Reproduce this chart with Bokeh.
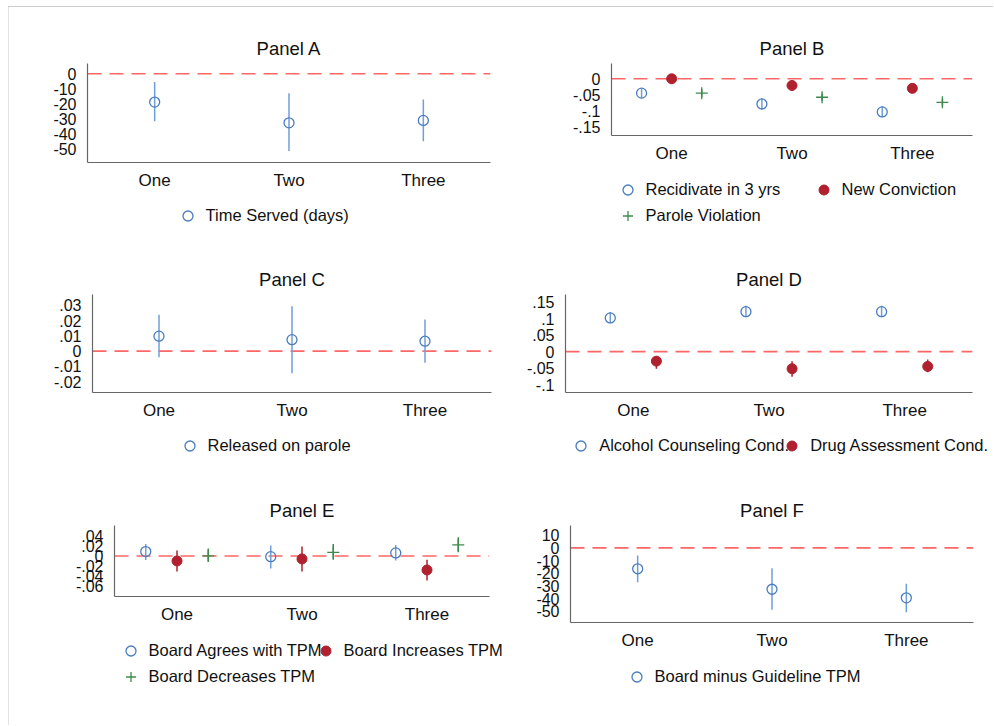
from bokeh.plotting import figure
from bokeh.models import (FactorRange, Range1d, FixedTicker, CustomJSTickFormatter, Span,
                          Legend, LegendItem, ColumnDataSource, Spacer)
from bokeh.layouts import row, column
from bokeh.transform import dodge
from bokeh.embed import file_html
from bokeh.resources import INLINE

cats = ["One", "Two", "Three"]

# Panel A: Time Served (days)
a_time = [-18.7, -32.4, -30.8]
a_time_lo = [-31.3, -51.0, -44.5]
a_time_hi = [-5.5, -12.8, -17.0]

# Panel B
b_recid = [-0.045, -0.079, -0.104]
b_recid_lo = [-0.061, -0.097, -0.121]
b_recid_hi = [-0.031, -0.063, -0.087]
b_conv = [0.000, -0.021, -0.030]
b_conv_lo = [-0.010, -0.031, -0.040]
b_conv_hi = [0.010, -0.011, -0.020]
b_parole = [-0.045, -0.058, -0.074]
b_parole_lo = [-0.057, -0.070, -0.086]
b_parole_hi = [-0.033, -0.046, -0.062]

# Panel C
c_release = [0.0098, 0.0075, 0.0065]
c_release_lo = [-0.0039, -0.0144, -0.0076]
c_release_hi = [0.0238, 0.0294, 0.0207]

# Panel D
d_alc = [0.102, 0.121, 0.121]
d_alc_lo = [0.086, 0.104, 0.104]
d_alc_hi = [0.119, 0.139, 0.139]
d_drug = [-0.029, -0.052, -0.045]
d_drug_lo = [-0.052, -0.076, -0.063]
d_drug_hi = [-0.015, -0.029, -0.024]

# Panel E
e_agree = [0.0086, -0.0014, 0.0060]
e_agree_lo = [-0.008, -0.025, -0.009]
e_agree_hi = [0.024, 0.021, 0.022]
e_incr = [-0.010, -0.006, -0.028]
e_incr_lo = [-0.031, -0.031, -0.049]
e_incr_hi = [0.0106, 0.019, -0.0074]
e_decr = [0.000, 0.007, 0.022]
e_decr_lo = [-0.011, -0.0074, 0.0072]
e_decr_hi = [0.015, 0.024, 0.037]

# Panel F
f_board = [-16.5, -32.6, -39.4]
f_board_lo = [-27.0, -48.8, -50.7]
f_board_hi = [-6.0, -16.0, -28.3]

# tick values
a_ticks = [0, -10, -20, -30, -40, -50]
b_ticks = [0, -0.05, -0.1, -0.15]
c_ticks = [0.03, 0.02, 0.01, 0, -0.01, -0.02]
d_ticks = [0.15, 0.1, 0.05, 0, -0.05, -0.1]
e_ticks = [0.04, 0.02, 0, -0.02, -0.04, -0.06]
f_ticks = [10, 0, -10, -20, -30, -40, -50]

FONT = "Liberation Sans"
BLUE = "#4a7cc0"
BLUE_L = "#6f9fd8"
RED = "#b0202e"
GREEN = "#3d8b4c"
ZERO = "#ff6666"

fmt_code = """
var s = String(Math.round(tick*10000)/10000);
return s.replace(/^0\\./, '.').replace(/^-0\\./, '-.');
"""


def make_panel(title, W, H, L, R, T, B, yr, ticks):
    p = figure(width=W, height=H, x_range=FactorRange(factors=cats),
               y_range=Range1d(*yr), output_backend="svg", toolbar_location=None,
               min_border_left=L, min_border_right=R, min_border_top=T, min_border_bottom=B)
    p.title.text = title
    p.title.align = "center"
    p.title.text_font = FONT
    p.title.text_font_size = "18.5px"
    p.title.text_font_style = "normal"
    p.title.text_color = "#111111"
    p.outline_line_color = None
    p.xgrid.visible = False
    p.ygrid.visible = False
    for ax in (p.xaxis[0], p.yaxis[0]):
        ax.axis_line_color = "#666666"
        ax.axis_line_width = 1.2
        ax.major_tick_line_color = None
        ax.minor_tick_line_color = None
        ax.major_tick_out = 0
        ax.major_tick_in = 0
        ax.minor_tick_out = 0
        ax.major_label_text_font = FONT
        ax.major_label_text_color = "#111111"
    p.xaxis.major_label_text_font_size = "17px"
    p.xaxis.major_label_standoff = 8
    p.yaxis.major_label_text_font_size = "16px"
    p.yaxis.major_label_standoff = 11
    p.yaxis.ticker = FixedTicker(ticks=ticks)
    p.yaxis.formatter = CustomJSTickFormatter(code=fmt_code)
    p.add_layout(Span(location=0, dimension="width", line_color=ZERO, line_width=1.6,
                      line_dash="14 8", level="underlay"))
    return p


def marker_kw(kind):
    if kind == "circle":
        return dict(marker="circle", size=10, fill_color=None, line_color=BLUE, line_width=1.3)
    if kind == "dot":
        return dict(marker="circle", size=10, fill_color=RED, line_color=RED, line_width=1)
    return dict(marker="cross", size=12, line_color=GREEN, line_width=1.3)


CI_COLOR = {"circle": BLUE_L, "dot": RED, "plus": GREEN}


def add_series(p, vals, lo, hi, offset, kind):
    src = ColumnDataSource(dict(cat=cats, y=vals, lo=lo, hi=hi))
    x = dodge("cat", offset, range=p.x_range)
    p.segment(x0=x, y0="lo", x1=x, y1="hi", source=src, line_color=CI_COLOR[kind],
              line_width=1.5)
    p.scatter(x=x, y="y", source=src, **marker_kw(kind))


NAN = float("nan")


def legend_fig(W, H, entries):
    """entries: list of (label, kind, vx, vy) -- vx, vy in screen px from bottom-left."""
    q = figure(width=W, height=H, x_range=Range1d(0, 1), y_range=Range1d(0, 1),
               output_backend="svg", toolbar_location=None, title=None,
               x_axis_location=None, y_axis_location=None,
               min_border_left=0, min_border_right=0, min_border_top=0, min_border_bottom=0)
    q.outline_line_color = None
    q.xgrid.visible = False
    q.ygrid.visible = False
    for label, kind, vx, vy in entries:
        # legend key proxy: a single undefined (NaN) point, never drawn in the frame
        r = q.scatter(x=[NAN], y=[NAN], **marker_kw(kind))
        lg = Legend(items=[LegendItem(label=label, renderers=[r])], location=(vx, vy),
                    glyph_width=25, glyph_height=25, label_standoff=6,
                    spacing=0, padding=0, margin=0, border_line_color=None,
                    background_fill_alpha=0, label_text_font=FONT,
                    label_text_font_size="16.5px", label_text_color="#111111")
        q.add_layout(lg, "center")
    return q


LB_L = 45   # left border, left column
LB_R = 44   # left border, right column
WL = 511
WR = 473
XB = 35     # bottom border (x-axis labels)

# Panel A (frame left at 87)
sA = 87 - 9 - LB_L
pA = make_panel("Panel A", WL - sA, 56 + 99 + XB, LB_L, 30, 56, XB, (-58.6, 6.8), a_ticks)
add_series(pA, a_time, a_time_lo, a_time_hi, 0, "circle")
lA = legend_fig(WL, 233 - pA.height, [("Time Served (days)", "circle", 165.5, 12.5)])

# Panel C (frame left at 92)
sC = 92 - 9 - LB_L
pC = make_panel("Panel C", WL - sC, 54 + 98 + XB, LB_L, 29, 54, XB, (-0.027, 0.037), c_ticks)
add_series(pC, c_release, c_release_lo, c_release_hi, 0, "circle")
lC = legend_fig(WL, 230 - pC.height, [("Released on parole", "circle", 167.5, 11.8)])

# Panel E (frame left at 114)
sE = 114 - 9 - LB_L
pE = make_panel("Panel E", WL - sE, 55 + 71 + XB, LB_L, 31, 55, XB, (-0.0808, 0.0606), e_ticks)
add_series(pE, e_agree, e_agree_lo, e_agree_hi, -0.25, "circle")
add_series(pE, e_incr, e_incr_lo, e_incr_hi, 0, "dot")
add_series(pE, e_decr, e_decr_lo, e_decr_hi, 0.25, "plus")
lE = legend_fig(WL, 255 - pE.height, [("Board Agrees with TPM", "circle", 108.5, 62.5),
                                      ("Board Increases TPM", "dot", 303.5, 62.5),
                                      ("Board Decreases TPM", "plus", 108.5, 35.8)])

# Panel B (frame left at 611)
sB = 611 - 520 - LB_R
pB = make_panel("Panel B", WR - sB, 56 + 72 + XB, LB_R, 21, 56, XB, (-0.178, 0.048), b_ticks)
add_series(pB, b_recid, b_recid_lo, b_recid_hi, -0.25, "circle")
add_series(pB, b_conv, b_conv_lo, b_conv_hi, 0, "dot")
add_series(pB, b_parole, b_parole_lo, b_parole_hi, 0.25, "plus")
lB = legend_fig(WR, 233 - pB.height, [("Recidivate in 3 yrs", "circle", 94.5, 38.5),
                                      ("New Conviction", "dot", 290.5, 38.5),
                                      ("Parole Violation", "plus", 94.5, 12.5)])

# Panel D (frame left at 565)
sD = 565 - 520 - LB_R
pD = make_panel("Panel D", WR - sD, 54 + 98 + XB, LB_R, 21, 54, XB, (-0.124, 0.173), d_ticks)
add_series(pD, d_alc, d_alc_lo, d_alc_hi, -0.17, "circle")
add_series(pD, d_drug, d_drug_lo, d_drug_hi, 0.17, "dot")
lD = legend_fig(WR, 230 - pD.height, [("Alcohol Counseling Cond.", "circle", 48.2, 12.5),
                                      ("Drug Assessment Cond.", "dot", 259.2, 12.5)])

# Panel F (frame left at 570)
sF = 570 - 520 - LB_R
pF = make_panel("Panel F", WR - sF, 55 + 97 + XB, LB_R, 20, 55, XB, (-58.8, 17.6), f_ticks)
add_series(pF, f_board, f_board_lo, f_board_hi, 0, "circle")
lF = legend_fig(WR, 255 - pF.height, [("Board minus Guideline TPM", "circle", 103.5, 35.8)])


def shifted(s, p):
    return row(Spacer(width=s, height=10), p)


hline = Spacer(width=985, height=1, styles={"background-color": "#cccccc"})
vline = Spacer(width=1, height=718, styles={"background-color": "#e2e2e2"})
left_col = column(shifted(sA, pA), row(lA), shifted(sC, pC), row(lC), shifted(sE, pE), row(lE))
right_col = column(shifted(sB, pB), row(lB), shifted(sD, pD), row(lD), shifted(sF, pF), row(lF))
grid = row(left_col, right_col)
page = column(Spacer(width=10, height=6),
              row(Spacer(width=8, height=10), column(hline, row(vline, grid))))

open("out.html", "w").write(file_html(page, INLINE))
